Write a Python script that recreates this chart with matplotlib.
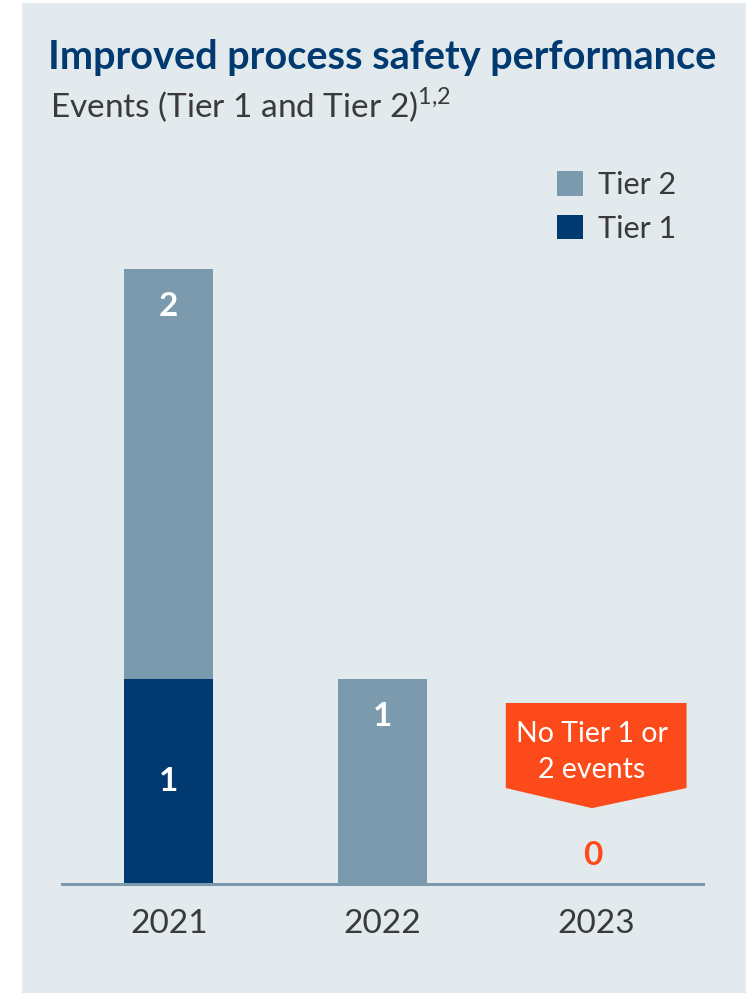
import numpy as np
import matplotlib.pyplot as plt
from matplotlib.patches import Polygon, Rectangle

years = ['2021', '2022', '2023']
tier1 = [1, 0, 0]
tier2 = [2, 1, 0]

c_tier1 = '#003a70'
c_tier2 = '#7b9aae'
c_bg = '#e3eaee'
c_orange = '#fc4a1a'
c_text = '#3a3a3a'

plt.rcParams['font.family'] = ['Lato', 'DejaVu Sans']

fig = plt.figure(figsize=(7.55, 9.97), dpi=100)
fig.patch.set_facecolor('white')
# light panel behind everything
fig.patches.append(Rectangle((22 / 755, 4 / 997), 724 / 755, 990 / 997,
                             transform=fig.transFigure, facecolor=c_bg,
                             edgecolor='none', zorder=-10))

ax = fig.add_axes([62 / 755, 113 / 997, 641 / 755, 635.5 / 997])
ax.set_facecolor('none')
x = np.arange(len(years))
w = 0.416
ax.bar(x, tier1, w, color=c_tier1, label='Tier 1', zorder=2)
ax.bar(x, tier2, w, bottom=tier1, color=c_tier2, label='Tier 2', zorder=2)
ax.set_xlim(-0.5, 2.5)
ax.set_ylim(0, 3.1)

for s in ['top', 'right', 'left']:
    ax.spines[s].set_visible(False)
ax.spines['bottom'].set_color(c_tier2)
ax.spines['bottom'].set_linewidth(2.2)
ax.set_yticks([])
ax.set_xticks(x, years)
ax.tick_params(axis='x', length=0, pad=18, labelsize=24, labelcolor=c_text)

# value labels
for i in range(len(years)):
    if tier1[i] > 0:
        ax.text(x[i], tier1[i] / 2, str(tier1[i]), ha='center', va='center',
                color='white', fontsize=24, fontweight='bold')
    if tier2[i] > 0:
        ax.annotate(str(tier2[i]), (x[i], tier1[i] + tier2[i]),
                    xytext=(0, -27), textcoords='offset points', ha='center',
                    va='center', color='white', fontsize=24, fontweight='bold')
    if tier1[i] + tier2[i] == 0:
        ax.text(x[i] - 0.015, 0.14, '0', ha='center', va='center',
                color=c_orange, fontsize=24, fontweight='bold')
        hw = 0.423
        callout = Polygon([(x[i] - hw, 0.883), (x[i] + hw, 0.883),
                           (x[i] + hw, 0.468), (x[i] - 0.02, 0.37),
                           (x[i] - hw, 0.468)], closed=True,
                          facecolor=c_orange, edgecolor='none', zorder=3)
        ax.add_patch(callout)
        ax.text(x[i] - 0.02, 0.645, 'No Tier 1 or\n2 events', ha='center',
                va='center', color='white', fontsize=20.5, linespacing=1.5,
                zorder=4)

# legend
leg = ax.legend(handles=[ax.containers[1], ax.containers[0]],
                labels=['Tier 2', 'Tier 1'], loc='upper left',
                bbox_to_anchor=(0.772, 1.122), frameon=False, fontsize=22,
                handlelength=0.85, handleheight=0.85, handletextpad=0.5,
                labelspacing=0.52, borderpad=0, borderaxespad=0)
for t in leg.get_texts():
    t.set_color(c_text)

fig.text(48 / 755, 1 - 58 / 997, 'Improved process safety performance',
         ha='left', va='center', fontsize=28.5, fontweight='bold', color=c_tier1)
fig.text(50 / 755, 1 - 105 / 997, r'Events (Tier 1 and Tier 2)$^{\mathregular{1{,}2}}$',
         ha='left', va='center', fontsize=24, color=c_text)

fig.savefig('out.png', dpi=100, facecolor=fig.get_facecolor())
